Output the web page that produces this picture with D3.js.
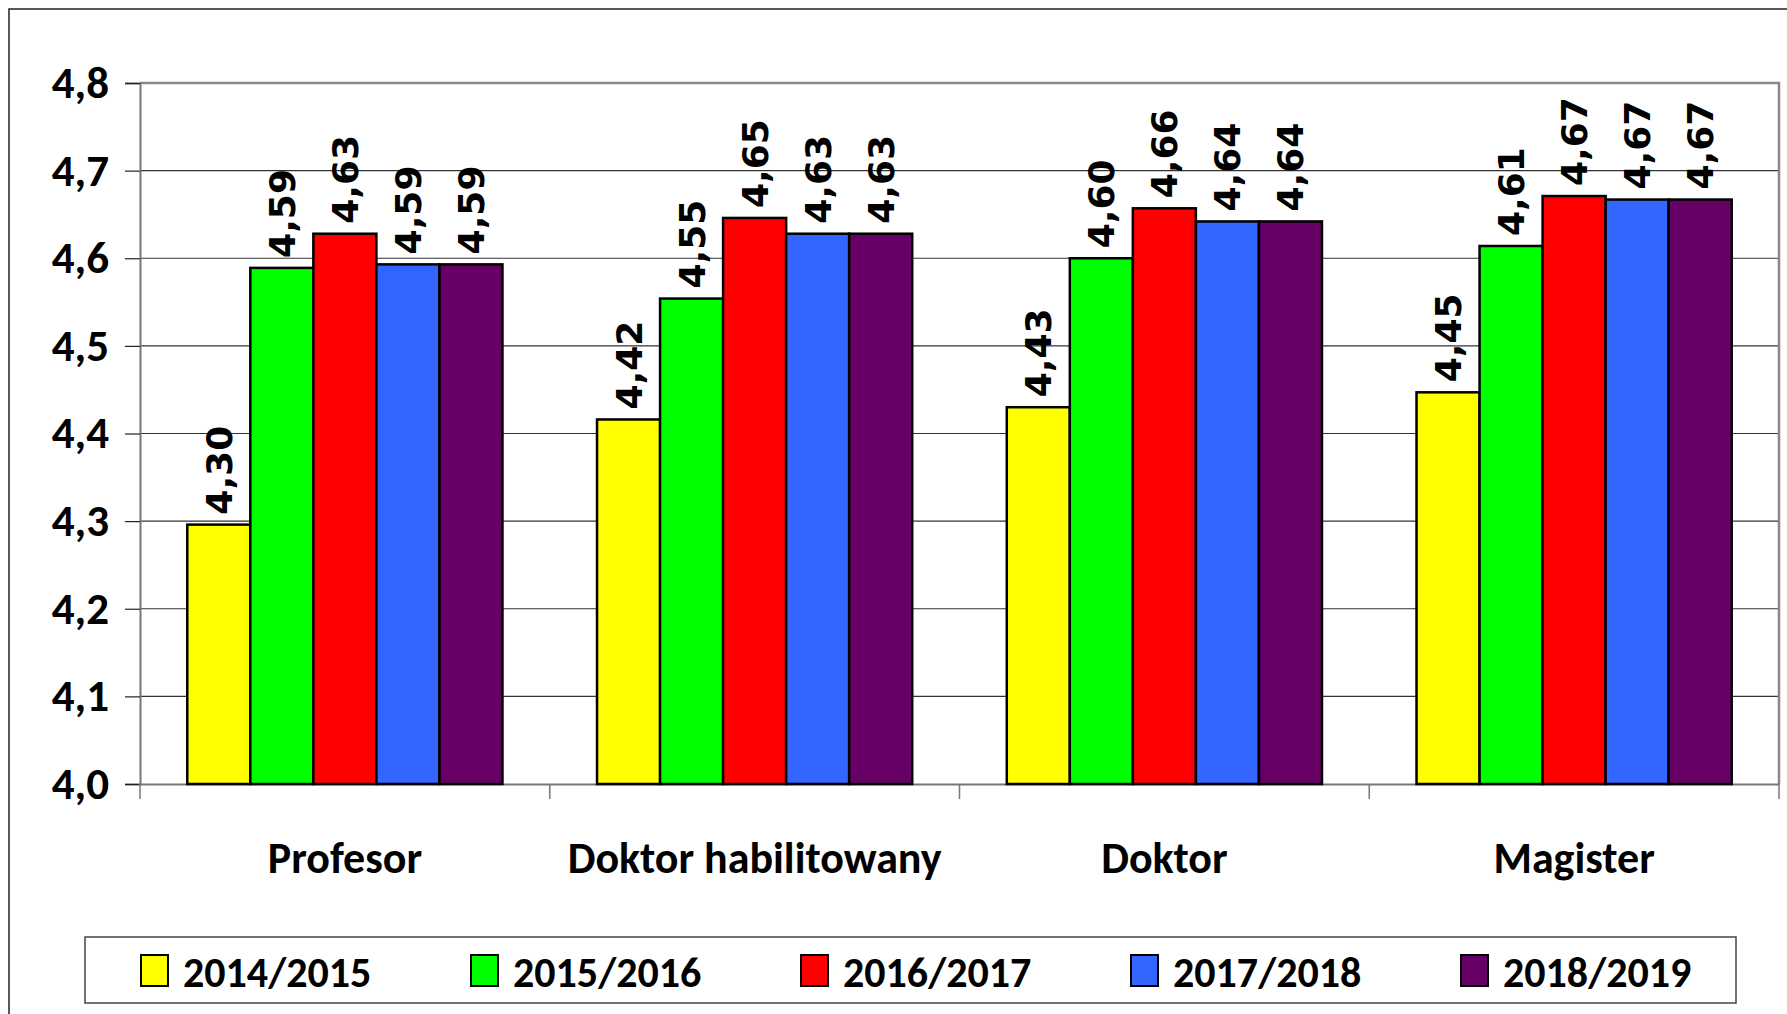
<!DOCTYPE html>
<html>
<head>
<meta charset="utf-8">
<script src="https://cdn.jsdelivr.net/npm/d3@7"></script>
<style>
  body { margin: 0; background: #fff; }
  svg { display: block; }
</style>
</head>
<body>
<main></main>
<script>
const categories = ['Profesor', 'Doktor habilitowany', 'Doktor', 'Magister']
const seriesNames = ['2014/2015', '2015/2016', '2016/2017', '2017/2018', '2018/2019']
const seriesColors = ['#ffff00', '#00ff00', '#ff0000', '#3366ff', '#660066']
// one array per year, in category order
const s2014 = [4.296, 4.416, 4.430, 4.447]
const s2015 = [4.589, 4.554, 4.600, 4.614]
const s2016 = [4.628, 4.646, 4.657, 4.671]
const s2017 = [4.593, 4.628, 4.642, 4.667]
const s2018 = [4.593, 4.628, 4.642, 4.667]
const yTicks = [4.0, 4.1, 4.2, 4.3, 4.4, 4.5, 4.6, 4.7, 4.8]

const width = 1787
const height = 1014
const plot = { left: 140, right: 1779, top: 83, bottom: 784 }
const labelFont = 'Carlito, Lato, "Liberation Sans", sans-serif'

const allSeries = [s2014, s2015, s2016, s2017, s2018]

const fmt = (v) => v.toFixed(2).replace('.', ',')

const svg = d3.select('main')
              .append('svg')
              .attr('width', width)
              .attr('height', height)

// outer frame (runs off the picture at right/bottom)
svg.append('rect')
   .attr('x', 9).attr('y', 9)
   .attr('width', width).attr('height', height)
   .attr('fill', 'none')
   .attr('stroke', '#222')
   .attr('stroke-width', 1.5)

const x0 = d3.scaleBand()
             .domain(categories)
             .range([plot.left, plot.right])
const x1 = d3.scaleBand()
             .domain(seriesNames)
             .range([0, x0.bandwidth()])
             .paddingOuter(0.75)
const y = d3.scaleLinear()
            .domain([4.0, 4.8])
            .range([plot.bottom, plot.top])

// gridlines
svg.append('g')
   .selectAll('line')
   .data(yTicks.slice(1, -1))
   .enter()
   .append('line')
   .attr('x1', plot.left).attr('x2', plot.right)
   .attr('y1', d => y(d)).attr('y2', d => y(d))
   .attr('stroke', '#333')
   .attr('stroke-width', 1.2)

// plot border top/right
svg.append('path')
   .attr('d', `M${plot.left},${plot.top}H${plot.right}V${plot.bottom}`)
   .attr('fill', 'none')
   .attr('stroke', '#888')
   .attr('stroke-width', 2.5)

// y axis
const yAxis = svg.append('g')
   .attr('transform', `translate(${plot.left},0)`)
   .call(d3.axisLeft(y).tickValues(yTicks).tickSize(15).tickPadding(16).tickFormat(d => d.toFixed(1).replace('.', ',')))
yAxis.select('.domain').attr('stroke', '#777').attr('stroke-width', 2)
yAxis.selectAll('.tick line').attr('stroke', '#222').attr('stroke-width', 1.2)
yAxis.selectAll('text')
     .attr('font-family', labelFont)
     .attr('font-weight', 800)
     .attr('font-size', 45)
     .attr('fill', '#000')

// x axis
const xAxis = svg.append('g')
   .attr('transform', `translate(0,${plot.bottom})`)
   .call(d3.axisBottom(x0).tickSize(0).tickPadding(58))
xAxis.select('.domain').attr('stroke', '#777').attr('stroke-width', 2)
xAxis.selectAll('text')
     .attr('font-family', labelFont)
     .attr('font-weight', 800)
     .attr('font-size', 44)
     .attr('fill', '#000')
// category separators
svg.append('g')
   .selectAll('line')
   .data(categories.concat(['end']))
   .enter()
   .append('line')
   .attr('x1', (d, i) => plot.left + i * x0.step())
   .attr('x2', (d, i) => plot.left + i * x0.step())
   .attr('y1', plot.bottom).attr('y2', plot.bottom + 15)
   .attr('stroke', '#777')
   .attr('stroke-width', 1.5)

// bars
const groups = svg.append('g')
   .selectAll('g')
   .data(categories)
   .enter()
   .append('g')
   .attr('transform', d => `translate(${x0(d)},0)`)

groups.selectAll('rect')
   .data((d, ci) => seriesNames.map((s, si) => ({ s, si, v: allSeries[si][ci] })))
   .enter()
   .append('rect')
   .attr('x', d => x1(d.s))
   .attr('y', d => y(d.v))
   .attr('width', x1.bandwidth())
   .attr('height', d => y(4.0) - y(d.v))
   .attr('fill', d => seriesColors[d.si])
   .attr('stroke', '#000')
   .attr('stroke-width', 2.5)

groups.selectAll('text')
   .data((d, ci) => seriesNames.map((s, si) => ({ s, si, v: allSeries[si][ci] })))
   .enter()
   .append('text')
   .attr('transform', d => `translate(${x1(d.s) + x1.bandwidth() / 2},${y(d.v) - 10}) rotate(-90)`)
   .attr('dy', '0.36em')
   .attr('font-family', '"DejaVu Sans", sans-serif')
   .attr('font-weight', 'bold')
   .attr('font-size', 36)
   .attr('fill', '#000')
   .text(d => fmt(d.v))

// legend
const legend = svg.append('g')
legend.append('rect')
   .attr('x', 85).attr('y', 937)
   .attr('width', 1651).attr('height', 66)
   .attr('fill', '#fff')
   .attr('stroke', '#444')
   .attr('stroke-width', 1.5)

const legendItems = legend.selectAll('g.item')
   .data(seriesNames)
   .enter()
   .append('g')
   .attr('class', 'item')
   .attr('transform', (d, i) => `translate(${141 + i * 330},955)`)
legendItems.append('rect')
   .attr('width', 27).attr('height', 31)
   .attr('fill', (d, i) => seriesColors[i])
   .attr('stroke', '#000')
   .attr('stroke-width', 2)
legendItems.append('text')
   .attr('x', 42).attr('y', 17)
   .attr('dy', '0.36em')
   .attr('font-family', labelFont)
   .attr('font-weight', 800)
   .attr('font-size', 42)
   .attr('fill', '#000')
   .text(d => d)
</script>
</body>
</html>
